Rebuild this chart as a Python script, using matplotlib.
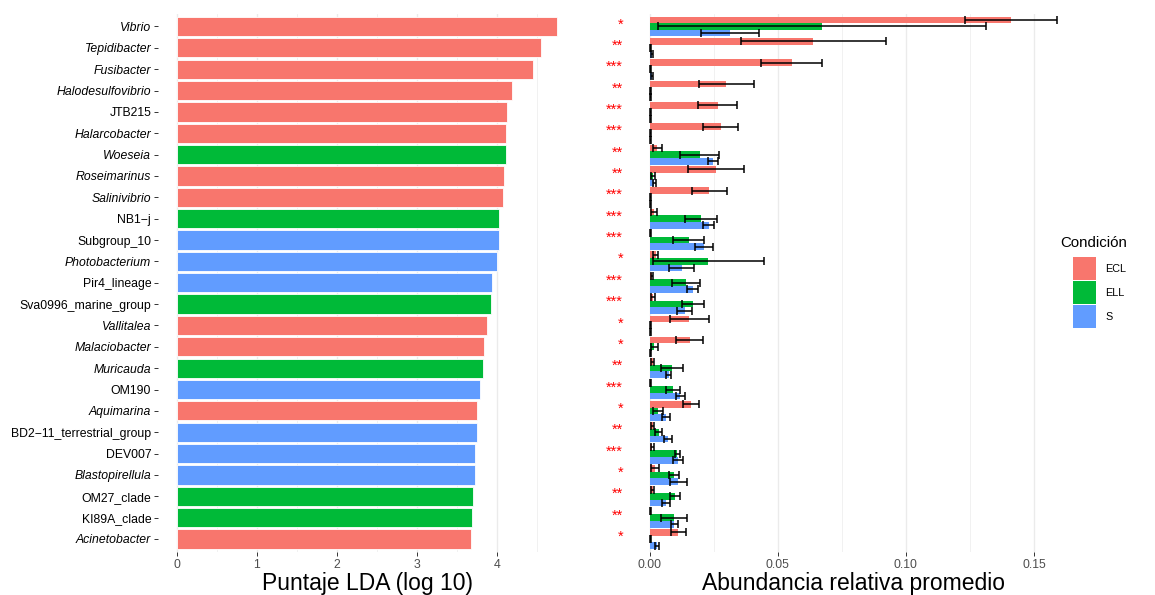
import numpy as np
import matplotlib.pyplot as plt
from matplotlib.patches import Patch

plt.rcParams['font.family'] = ['Liberation Sans', 'DejaVu Sans']

# taxa, top to bottom
taxa = ["Vibrio", "Tepidibacter", "Fusibacter", "Halodesulfovibrio", "JTB215",
        "Halarcobacter", "Woeseia", "Roseimarinus", "Salinivibrio", "NB1\u2212j",
        "Subgroup_10", "Photobacterium", "Pir4_lineage", "Sva0996_marine_group",
        "Vallitalea", "Malaciobacter", "Muricauda", "OM190", "Aquimarina",
        "BD2\u221211_terrestrial_group", "DEV007", "Blastopirellula", "OM27_clade",
        "KI89A_clade", "Acinetobacter"]
italic = [True, True, True, True, False, True, True, True, True, False,
          False, True, False, False, True, True, True, False, True,
          False, False, True, False, False, True]
lda = [4.75, 4.55, 4.45, 4.19, 4.13, 4.11, 4.11, 4.09, 4.08, 4.03,
       4.03, 4.00, 3.94, 3.93, 3.88, 3.84, 3.82, 3.79, 3.75,
       3.75, 3.73, 3.72, 3.70, 3.69, 3.68]
group = ["ECL", "ECL", "ECL", "ECL", "ECL", "ECL", "ELL", "ECL", "ECL", "ELL",
         "S", "S", "S", "ELL", "ECL", "ECL", "ELL", "S", "ECL",
         "S", "S", "S", "ELL", "ELL", "ECL"]
signif = ["*", "**", "***", "**", "***", "***", "**", "**", "***", "***",
          "***", "*", "***", "***", "*", "*", "**", "***", "*",
          "**", "***", "*", "**", "**", "*"]

ecl_mean = [0.141, 0.0638, 0.0553, 0.0299, 0.0264, 0.0276, 0.0029, 0.0259, 0.0232, 0.0016,
            0.0004, 0.0022, 0.0009, 0.0012, 0.0154, 0.0156, 0.0010, 0.0003, 0.0161,
            0.0011, 0.0009, 0.0021, 0.0011, 0.0003, 0.0110]
ecl_sd = [0.018, 0.0284, 0.0118, 0.0106, 0.0078, 0.0069, 0.0018, 0.0110, 0.0069, 0.0013,
          0.0002, 0.0011, 0.0004, 0.0007, 0.0076, 0.0053, 0.0007, 0.0002, 0.0030,
          0.0006, 0.0005, 0.0016, 0.0005, 0.0002, 0.0029]
ell_mean = [0.0672, 0.0003, 0.0003, 0.0002, 0.0002, 0.0002, 0.0194, 0.0012, 0.0002, 0.0198,
            0.0151, 0.0228, 0.0141, 0.0168, 0.0002, 0.0017, 0.0086, 0.0090, 0.0032,
            0.0034, 0.0107, 0.0095, 0.0098, 0.0094, 0.0003]
ell_sd = [0.064, 0.0002, 0.0002, 0.0001, 0.0001, 0.0001, 0.0077, 0.0006, 0.0001, 0.0062,
          0.0060, 0.0217, 0.0054, 0.0042, 0.0001, 0.0014, 0.0042, 0.0026, 0.0019,
          0.0013, 0.0010, 0.0020, 0.0021, 0.0052, 0.0002]
s_mean = [0.0313, 0.0007, 0.0008, 0.0002, 0.0002, 0.0002, 0.0247, 0.0017, 0.0002, 0.0230,
          0.0210, 0.0124, 0.0167, 0.0136, 0.0002, 0.0003, 0.0074, 0.0119, 0.0064,
          0.0071, 0.0110, 0.0110, 0.0063, 0.0095, 0.0026]
s_sd = [0.0112, 0.0003, 0.0003, 0.0001, 0.0001, 0.0001, 0.0019, 0.0007, 0.0001, 0.0022,
        0.0035, 0.0050, 0.0022, 0.0030, 0.0001, 0.0001, 0.0010, 0.0019, 0.0015,
        0.0015, 0.0018, 0.0033, 0.0017, 0.0013, 0.0008]

COLORS = {"ECL": "#F8766D", "ELL": "#00BA38", "S": "#619CFF"}
GRID = "#EBEBEB"
W, H = 1155, 595

y = np.arange(len(taxa))
bottom, height = 0.0726, 0.9044

fig = plt.figure(figsize=(W / 100, H / 100), dpi=100)
# ggplot-like 5% expansion on both x scales
ax_l = fig.add_axes([158 / W, bottom, 418 / W, height])
ax_r = fig.add_axes([629.6 / W, bottom, 447.7 / W, height])


def style_axis(ax):
    for s in ax.spines.values():
        s.set_visible(False)
    ax.set_axisbelow(True)
    ax.grid(axis="x", which="major", color=GRID, lw=1.0)
    ax.grid(axis="x", which="minor", color=GRID, lw=0.5)
    ax.grid(axis="y", visible=False)
    ax.tick_params(axis="both", which="major", length=2.7, width=0.7,
                   color="#333333", pad=2.2, labelsize=8.8)
    ax.tick_params(axis="x", labelcolor="#4D4D4D")
    ax.tick_params(axis="both", which="minor", length=0)
    ax.set_ylim(len(taxa) - 0.4, -0.6)


# left: LDA scores
ax_l.barh(y, lda, height=0.9, color=[COLORS[g] for g in group],
          edgecolor="white", linewidth=0.6, zorder=2)
ax_l.set_xlim(-0.2375, 4.9875)
ax_l.set_xticks([0, 1, 2, 3, 4])
ax_l.set_xticks(np.arange(0.5, 4.6, 1.0), minor=True)
style_axis(ax_l)
ax_l.set_yticks(y)
ax_l.set_yticklabels(taxa, color="black")
for lab, it in zip(ax_l.get_yticklabels(), italic):
    if it:
        lab.set_style("italic")
ax_l.set_xlabel("Puntaje LDA (log 10)", fontsize=16.5, labelpad=1)

# right: mean relative abundance
offsets = {"ECL": -0.31, "ELL": 0.0, "S": 0.31}
series = {"ECL": (ecl_mean, ecl_sd), "ELL": (ell_mean, ell_sd), "S": (s_mean, s_sd)}
for name, (m, sd) in series.items():
    yy = y + offsets[name]
    ax_r.barh(yy, m, height=0.31, color=COLORS[name], zorder=2)
    ax_r.errorbar(m, yy, xerr=sd, fmt="none", ecolor="black", elinewidth=1.1,
                  capsize=3, capthick=1.1, zorder=3)
ax_r.set_xlim(-0.00795, 0.16695)
ax_r.set_xticks([0, 0.05, 0.10, 0.15])
ax_r.set_xticklabels(["0.00", "0.05", "0.10", "0.15"])
ax_r.set_xticks([0.025, 0.075, 0.125], minor=True)
style_axis(ax_r)
ax_r.set_yticks([])
ax_r.set_xlabel("Abundancia relativa promedio", fontsize=16.5, labelpad=1)

for yi, s in zip(y, signif):
    ax_r.text(-0.0105, yi - 0.1, s, ha="right", va="center", color="red",
              fontsize=10.5, clip_on=False)

# legend: title drawn separately so the gap above the keys can be set
fig.text(1060 / W, 1 - 243 / H, "Condición", ha="left", va="center", fontsize=10.8)
handles = [Patch(facecolor=COLORS[k], edgecolor="none", label=k) for k in COLORS]
fig.legend(handles=handles, loc="upper left",
           bbox_to_anchor=(1073 / W, 1 - 257 / H), frameon=False,
           fontsize=7.8, handlelength=2.13, handleheight=2.9,
           labelspacing=0.1, handletextpad=0.83, borderpad=0, borderaxespad=0)

fig.savefig("out.png", dpi=100)
